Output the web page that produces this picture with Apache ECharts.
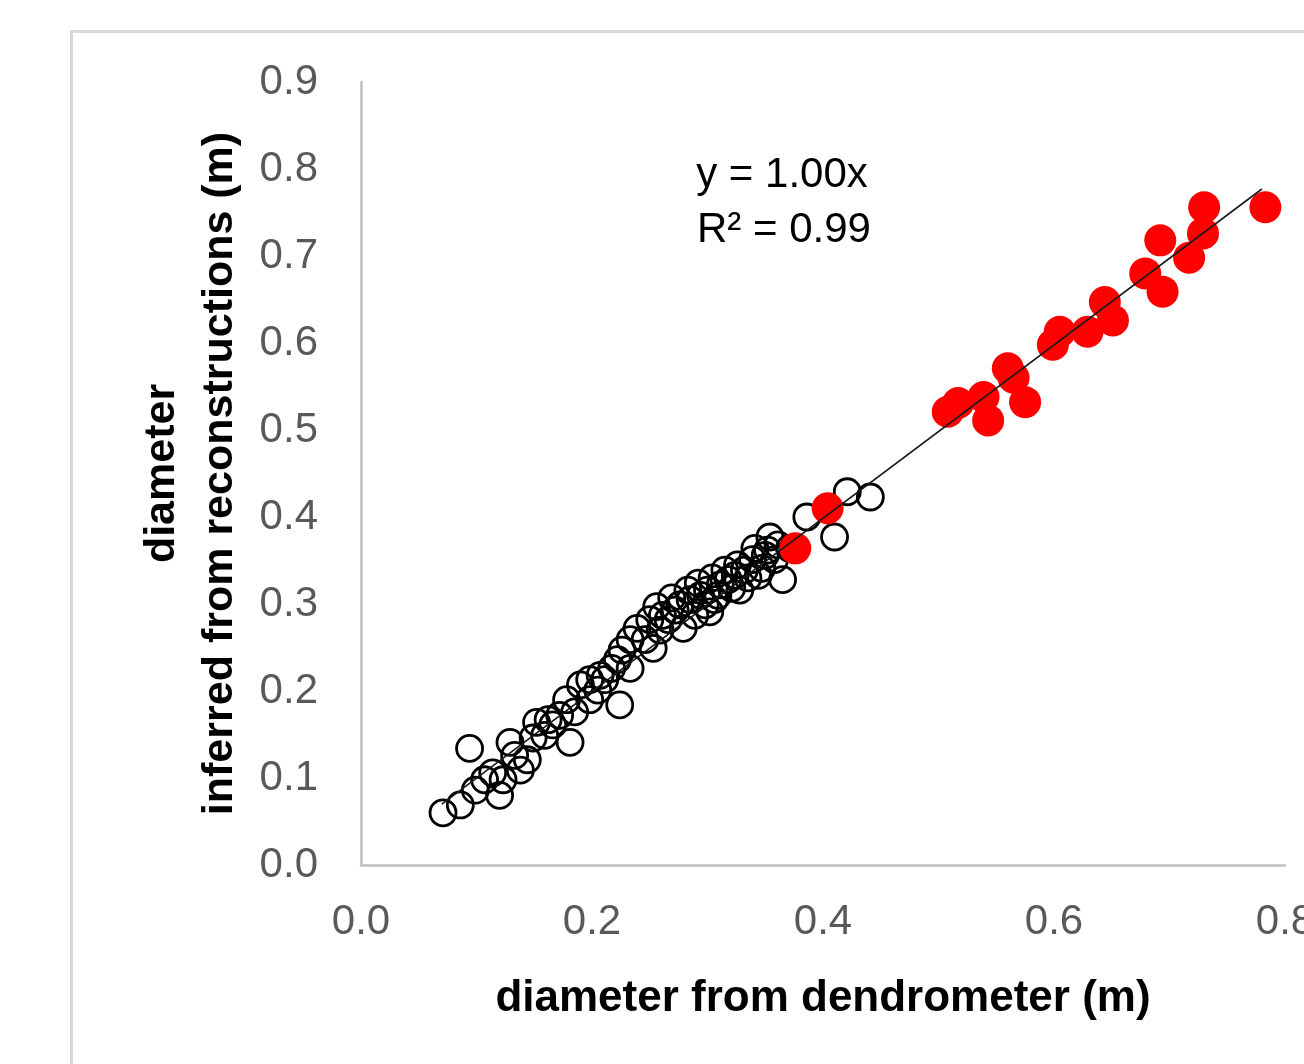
<!DOCTYPE html>
<html>
<head>
<meta charset="utf-8">
<script src="https://cdn.jsdelivr.net/npm/echarts@6/dist/echarts.min.js"></script>
<style>
html,body{margin:0;padding:0;background:#fff;}
#c{width:1304px;height:1064px;}
</style>
</head>
<body>
<div id="c"></div>
<script>
// Hollow (black) points: diameter from dendrometer vs inferred
var obsX = [0.071,0.086,0.099,0.094,0.114,0.120,0.123,0.129,0.138,0.144,0.149,0.152,0.159,0.166,0.181,0.178,0.185,0.190,0.198,0.205,0.211,0.224,0.222,0.226,0.233,0.239,0.246,0.253,0.256,0.259,0.266,0.272,0.279,0.285,0.289,0.294,0.300,0.302,0.306,0.311,0.318,0.324,0.328,0.332,0.339,0.344,0.350,0.354,0.358,0.365,0.371,0.386,0.410,0.421,0.441,0.250,0.261,0.269,0.276,0.283,0.292,0.298,0.304,0.309,0.315,0.321,0.326,0.335,0.341,0.347,0.352,0.361,0.233,0.217,0.207,0.198,0.172,0.162,0.133,0.107];
var obsY = [0.060,0.069,0.086,0.134,0.106,0.080,0.098,0.141,0.109,0.121,0.146,0.164,0.149,0.161,0.141,0.190,0.176,0.207,0.190,0.201,0.213,0.184,0.236,0.247,0.226,0.272,0.259,0.249,0.297,0.270,0.282,0.293,0.272,0.305,0.287,0.310,0.316,0.291,0.305,0.322,0.328,0.333,0.316,0.339,0.351,0.333,0.356,0.377,0.351,0.328,0.364,0.400,0.377,0.429,0.423,0.282,0.287,0.307,0.299,0.316,0.324,0.299,0.330,0.310,0.339,0.318,0.345,0.330,0.364,0.341,0.362,0.368,0.259,0.226,0.218,0.213,0.172,0.167,0.126,0.098];
// Filled (red) points
var redX = [0.376,0.404,0.508,0.517,0.539,0.543,0.560,0.575,0.565,0.599,0.605,0.629,0.644,0.651,0.679,0.692,0.694,0.717,0.729,0.730,0.783];
var redY = [0.364,0.410,0.521,0.531,0.538,0.511,0.571,0.532,0.560,0.598,0.613,0.613,0.647,0.626,0.680,0.718,0.659,0.698,0.726,0.756,0.756];
// Trend line y = 1.00x
var trendX = [0.07, 0.78];
var trendY = [0.07, 0.777];
var xTicks = ['0.0','0.2','0.4','0.6','0.8'];
var yTicks = ['0.0','0.1','0.2','0.3','0.4','0.5','0.6','0.7','0.8','0.9'];

function pairs(a,b){ return a.map(function(v,i){ return [v,b[i]]; }); }

var FONT = "'Liberation Sans Narrow','Liberation Sans',sans-serif";
var chart = echarts.init(document.getElementById('c'), null, {renderer:'canvas'});
chart.setOption({
  animation:false,
  backgroundColor:'#fff',
  grid:{left:361, top:82, right:19, bottom:199, containLabel:false, outerBoundsMode:'none'},
  xAxis:{
    type:'value', min:0, max:0.8, interval:0.2,
    axisLine:{show:true, lineStyle:{color:'#bfbfbf', width:2.5}},
    axisTick:{show:false}, splitLine:{show:false},
    axisLabel:{color:'#595959', fontSize:42, fontFamily:FONT, margin:36, hideOverlap:false,
      formatter:function(v){ var i=Math.round(v/0.2); return xTicks[i]; }},
    name:'diameter from dendrometer (m)', nameLocation:'middle', nameGap:112,
    nameTextStyle:{color:'#000', fontSize:44, fontWeight:'bold', fontFamily:FONT}
  },
  yAxis:{
    type:'value', min:0, max:0.9, interval:0.1,
    axisLine:{show:true, lineStyle:{color:'#bfbfbf', width:2.5}},
    axisTick:{show:false}, splitLine:{show:false},
    axisLabel:{color:'#595959', fontSize:42, fontFamily:FONT, margin:43,
      formatter:function(v){ var i=Math.round(v/0.1); return yTicks[i]; }},
    name:'diameter\ninferred from reconstructions (m)', nameLocation:'middle', nameGap:106, nameRotate:90,
    nameTextStyle:{color:'#000', fontSize:43, fontWeight:'bold', fontFamily:FONT, lineHeight:58, align:'center'}
  },
  series:[
    {type:'scatter', data:pairs(obsX,obsY), symbol:'circle', symbolSize:26,
     itemStyle:{color:'rgba(0,0,0,0)', borderColor:'#000', borderWidth:2.8, opacity:1}, z:2},
    {type:'scatter', data:pairs(redX,redY), symbol:'circle', symbolSize:32,
     itemStyle:{color:'#ff0000', opacity:1}, z:3},
    {type:'line', data:pairs(trendX,trendY), symbol:'none',
     lineStyle:{color:'#1a1a1a', width:1.6}, z:4}
  ],
  graphic:[
    {type:'rect', shape:{x:71.5, y:31.5, width:1400, height:1200}, style:{fill:'none', stroke:'#d9d9d9', lineWidth:3}, silent:true, z:-1},
    {type:'text', x:782, y:175, style:{text:'y = 1.00x', fill:'#000', font:"42px "+FONT, textAlign:'center', textVerticalAlign:'middle'}},
    {type:'text', x:784, y:230, style:{text:'R\u00b2 = 0.99', fill:'#000', font:"42px "+FONT, textAlign:'center', textVerticalAlign:'middle'}}
  ]
});
</script>
</body>
</html>
